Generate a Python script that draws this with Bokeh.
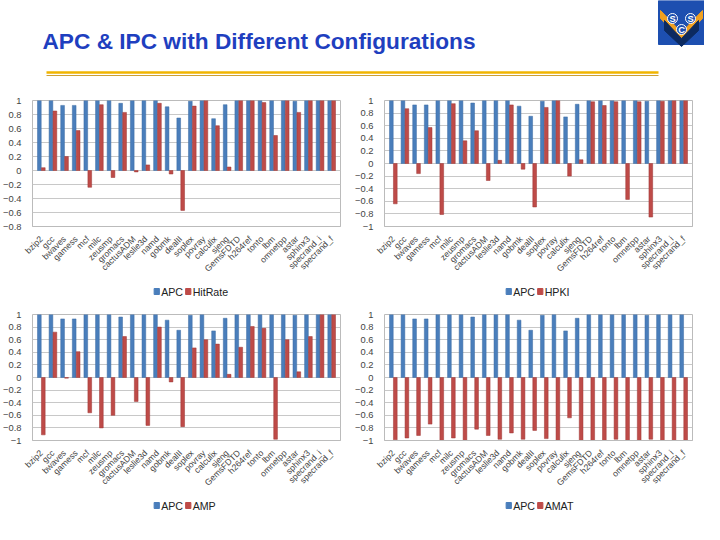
from bokeh.plotting import figure
from bokeh.layouts import column, row
from bokeh.models import FixedTicker, ColumnDataSource
from bokeh.transform import dodge
from bokeh.core.properties import value
from bokeh.embed import file_html
from bokeh.resources import INLINE

benchmarks = ["bzip2","gcc","bwaves","gamess","mcf","milc","zeusmp","gromacs","cactusADM","leslie3d",
              "namd","gobmk","dealII","soplex","povray","calculix","sjeng","GemsFDTD","h264ref","tonto",
              "lbm","omnetpp","astar","sphinx3","specrand_i","specrand_f"]
apc = [1,1,0.93,0.93,1,1,1,0.96,1,1,1,0.91,0.75,0.99,1,0.74,0.94,1,1,1,1,1,0.99,1,1,1]
hitrate = [0.04,0.85,0.2,0.57,-0.24,0.94,-0.1,0.83,-0.02,0.08,0.96,-0.05,-0.57,0.92,1,0.64,0.05,1,1,0.97,0.5,1,0.83,1,1,1]
hpki = [-0.64,0.87,-0.16,0.57,-0.81,0.95,0.36,0.52,-0.27,0.05,0.93,-0.09,-0.69,0.89,1,-0.2,0.06,0.98,0.92,0.98,-0.57,0.98,-0.85,0.99,1,1]
amp = [-0.91,0.72,-0.01,0.41,-0.56,-0.8,-0.6,0.65,-0.38,-0.76,0.8,-0.07,-0.78,0.47,0.6,0.53,0.05,0.48,0.81,0.78,-0.98,0.6,0.09,0.65,1,1]
amat = [-0.99,-0.96,-0.92,-0.74,-1,-0.96,-1,-0.82,-0.92,-0.98,-0.88,-0.98,-0.84,-0.97,-1,-0.64,-1,-1,-1,-0.98,-1,-1,-0.98,-1,-1,-1]

BLUE = "#4a7ebb"
RED = "#be4b48"
FONT = "Liberation Sans"

def chart(name, vals, ymin):
    src = ColumnDataSource(dict(x=benchmarks, apc=apc, other=vals))
    p = figure(x_range=benchmarks, y_range=(ymin, 1.0), width=352, height=192,
               output_backend="svg", toolbar_location=None, min_border_left=32,
               min_border_right=12, min_border_top=12, min_border_bottom=0)
    p.vbar(x=dodge("x", -0.17, range=p.x_range), top="apc", width=0.32, source=src,
           color=BLUE, line_color="#3b6aa3", line_width=0.5)
    p.vbar(x=dodge("x", 0.17, range=p.x_range), top="other", width=0.32, source=src,
           color=RED, line_color="#9c3532", line_width=0.5)
    n = int(round((1 - ymin) / 0.2))
    p.yaxis.ticker = FixedTicker(ticks=[round(ymin + 0.2 * i, 1) for i in range(n + 1)])
    p.yaxis.major_label_text_font_size = "7pt"
    p.xaxis.major_label_text_font_size = "6.5pt"
    p.yaxis.major_label_text_font = FONT
    p.xaxis.major_label_text_font = FONT
    p.xaxis.major_label_orientation = 0.785
    p.xaxis.major_tick_line_color = None
    p.yaxis.major_tick_line_color = None
    p.yaxis.minor_tick_line_color = None
    p.xaxis.axis_line_color = "#bbbbbb"
    p.yaxis.axis_line_color = None
    p.xgrid.grid_line_color = None
    p.ygrid.grid_line_color = "#c8c8c8"
    p.outline_line_color = "#bbbbbb"
    p.x_range.range_padding = 0.02

    lg = figure(width=352, height=22, x_range=(0, 352), y_range=(0, 22),
                output_backend="svg", toolbar_location=None, min_border=0)
    lg.axis.visible = False
    lg.grid.visible = False
    lg.outline_line_color = None
    x0 = 142
    lg.rect(x=[x0, x0 + 36], y=[11, 11], width=6, height=6, color=[BLUE, RED])
    lg.text(x=[x0 + 5, x0 + 41], y=[11, 11], text=["APC", name], text_font=value(FONT),
            text_font_size="8pt", text_baseline="middle", text_color="#222222")
    return column(p, lg, spacing=0)

header = figure(width=704, height=88, x_range=(0, 704), y_range=(88, 0),
                output_backend="svg", toolbar_location=None, min_border=0)
header.axis.visible = False
header.grid.visible = False
header.outline_line_color = None
header.text(x=[42], y=[40], text=["APC & IPC with Different Configurations"],
            text_font=value("Liberation Sans"), text_font_style="bold",
            text_font_size="17pt", text_color="#1f3fbf", text_baseline="middle")
header.line(x=[46, 658], y=[72, 72], line_color="#f0b400", line_width=2.5)
header.line(x=[46, 658], y=[75, 75], line_color="#c08800", line_width=0.8)
header.rect(x=[681], y=[22], width=46, height=44, color="#1d4fb0")
header.patch(x=[660, 681, 702, 702, 681, 660], y=[10, 32, 10, 18, 40, 18], color="#f0a020")
header.patch(x=[664, 681, 698, 698, 681, 664], y=[20, 38, 20, 30, 46, 30], color="#0c2a60")
header.scatter(x=[672, 690, 681], y=[18, 18, 29], size=10, color="#1d4fb0", line_color="white")
header.text(x=[672, 690, 681], y=[18, 18, 29], text=["S", "S", "C"], text_color="white",
            text_font=value("Liberation Sans"), text_font_style="bold", text_font_size="7pt",
            text_align="center", text_baseline="middle")

layout = column(header,
                row(chart("HitRate", hitrate, -0.8), chart("HPKI", hpki, -1.0), spacing=0),
                row(chart("AMP", amp, -1.0), chart("AMAT", amat, -1.0), spacing=0),
                spacing=0)
open("out.html", "w").write(file_html(layout, INLINE))
